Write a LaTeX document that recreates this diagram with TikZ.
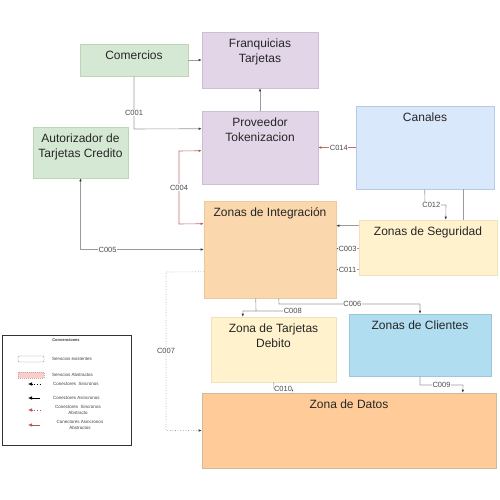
\documentclass[tikz,border=0pt]{standalone}
\usepackage{fontspec}
\setmainfont{Liberation Sans}
\usetikzlibrary{arrows.meta, calc}
\definecolor{wire}{RGB}{155,155,155}
\definecolor{tip}{RGB}{60,60,60}
\definecolor{rust}{RGB}{184,84,80}
\definecolor{sage}{HTML}{D5E8D4}
\definecolor{lilac}{HTML}{E1D5E7}
\definecolor{sky}{HTML}{DAE8FC}
\definecolor{peach}{HTML}{FAD7AC}
\definecolor{cream}{HTML}{FFF2CC}
\definecolor{aqua}{HTML}{B1DDF0}
\definecolor{apricot}{HTML}{FFCC99}
\definecolor{blush}{HTML}{F8CECC}
\definecolor{sageln}{HTML}{BCD6B6}
\definecolor{lilacln}{HTML}{CCBFD3}
\definecolor{skyln}{HTML}{B5CAE6}
\definecolor{peachln}{HTML}{EEC89E}
\definecolor{creamln}{HTML}{F1E3B8}
\definecolor{aqualn}{HTML}{9CC6DA}
\definecolor{apricotln}{HTML}{D4B89C}

\begin{document}
\begin{tikzpicture}[
  x=1pt, y=-1pt,
  zone/.style={rectangle, inner sep=0pt, line width=0.6pt},
  ttl/.style={anchor=north, yshift=-7pt, inner sep=0pt, align=center,
              font=\fontsize{12}{15}\selectfont, text=black!85},
  wire/.style={-{Latex[length=3pt, width=2.6pt, color=tip]}, draw=wire, line width=0.6pt},
  both/.style={{Latex[length=3pt, width=2.6pt, color=#1]}-{Latex[length=3pt, width=2.6pt, color=#1]}},
  rwire/.style={-{Latex[length=3pt, width=2.6pt, color=rust]}, draw=rust!85, line width=0.6pt},
  lab/.style={font=\fontsize{7.5}{8}\selectfont, text=black!70, fill=white,
              inner sep=0.5pt},
  leg/.style={font=\fontsize{4.5}{5.5}\selectfont, text=black!75, align=center,
              inner sep=0pt}]
  \useasboundingbox (0,0) rectangle (500,500);

  % boxes
  \node[zone, fill=sage, draw=sageln, minimum width=108, minimum height=32,
        label={[ttl]north:Comercios}] (com) at (134,60) {};
  \node[zone, fill=lilac, draw=lilacln, minimum width=116, minimum height=56,
        label={[ttl]north:Franquicias\\Tarjetas}] (fra) at (260,60) {};
  \node[zone, fill=lilac, draw=lilacln, minimum width=116, minimum height=73,
        label={[ttl]north:Proveedor\\Tokenizacion}] (tok) at (260,147.5) {};
  \node[zone, fill=sage, draw=sageln, minimum width=95, minimum height=51,
        label={[ttl]north:Autorizador de\\Tarjetas Credito}] (aut) at (80.5,152.5) {};
  \node[zone, fill=sky, draw=skyln, minimum width=138, minimum height=83,
        label={[ttl]north:Canales}] (can) at (425,147.5) {};
  \node[zone, fill=peach, draw=peachln, minimum width=132, minimum height=97,
        label={[ttl]north:Zonas de Integración}] (zin) at (270,249.5) {};
  \node[zone, fill=cream, draw=creamln, minimum width=138, minimum height=55,
        label={[ttl]north:Zonas de Seguridad}] (zse) at (428,247.5) {};
  \node[zone, fill=cream, draw=creamln, minimum width=125, minimum height=65,
        label={[ttl]north:Zona de Tarjetas\\Debito}] (ztd) at (273.5,349.5) {};
  \node[zone, fill=aqua, draw=aqualn, minimum width=142, minimum height=62,
        label={[ttl]north:Zonas de Clientes}] (zcl) at (420,345) {};
  \node[zone, fill=apricot, draw=apricotln, minimum width=294, minimum height=75,
        label={[ttl]north:Zona de Datos}] (zda) at (349,430.5) {};

  % connectors
  \draw[wire] (com) -- (fra);
  \draw[wire] (com.south) -- node[lab, pos=0.7] {C001} (134,129)
    -- ($(tok.north west)+(0,18)$);
  \draw[wire] (tok) -- (fra);
  \draw[rwire, both=rust] ($(zin.north west)+(0,23)$) -- (179,224)
    -- node[lab] {C004} (179,151) -- ($(tok.north west)+(0,40)$);
  \draw[wire, both=tip] (aut.south) -- (80.5,249.5)
    -- node[lab, pos=0.22] {C005} (zin.west);
  \draw[wire, dotted] ($(zin.north west)+(0,71)$) -- (166,272)
    -- node[lab] {C007} (166,430.5) -- (zda.west);
  \draw[rwire] (can) -- node[lab, pos=0.45] {C014} (tok);
  \draw[wire] ($(can.south west)+(69,0)$) -- (425,205) -- node[lab, pos=0.3] {C012} (446,205)
    -- ($(zse.north west)+(87,0)$);
  \draw[draw=wire, line width=0.6pt] ($(zse.north west)+(105,0)$) -- ($(can.south west)+(108,0)$);
  \draw[wire] ($(zse.north west)+(0,6)$) -- ($(zin.north east)+(0,25)$);
  \draw[wire] ($(zse.north west)+(0,29)$) -- node[lab] {C003} ($(zin.north east)+(0,48)$);
  \draw[wire] ($(zse.north west)+(0,50)$) -- node[lab] {C011} ($(zin.north east)+(0,69)$);
  \draw[draw=wire, line width=0.6pt] ($(zin.south west)+(52,0)$) -- (256,311)
    -- (283,311) node[lab, anchor=west] (c8) {C008};
  \draw[wire] (256,311) -- (243,311) -- ($(ztd.north west)+(32,0)$);
  \draw[wire] ($(zin.south west)+(75,0)$) -- (279,304) -- node[lab, pos=0.52] {C006} (420,304)
    -- (zcl.north);
  \draw[wire] ($(ztd.south west)+(63,0)$) -- (274,389) -- node[lab] {C010} (292,389)
    -- ($(zda.north west)+(90,0)$);
  \draw[wire] (zcl.south) -- (420,385) -- node[lab] {C009} (463,385)
    -- ($(zda.north west)+(261,0)$);

  % legend
  \node[draw=black!80, line width=1pt, minimum width=129, minimum height=110,
        inner sep=0pt] (legbox) at (66.5,390) {};
  \node[leg, font=\fontsize{4}{5}\selectfont\bfseries] (legt) at (66,340) {Convenciones};
  \draw[draw=gray!80, fill=white, rounded corners=1pt, line width=0.4pt] (18,356) rectangle (44,362);
  \node[leg, anchor=west] (l1) at (52,359) {Servicios existentes};
  \draw[draw=rust!55, fill=blush, dash pattern=on 1pt off 1pt, line width=0.3pt] (18,372) rectangle (44,378);
  \node[leg, anchor=west] (l2) at (52,375) {Servicios Abstractos};
  \draw[{Latex[length=4pt, width=3.5pt]}-, draw=black, dotted, line width=0.6pt] (28,384) -- (40,384);
  \node[leg, anchor=west] (l3) at (53,384) {Conectores~~Sincronos};
  \draw[{Latex[length=4pt, width=3.5pt]}-, draw=black, line width=0.6pt] (28,398) -- (40,398);
  \node[leg, anchor=west] (l4) at (53,398) {Conectores Asincronos};
  \draw[{Latex[length=4pt, width=3.5pt]}-, draw=rust, dotted, line width=0.6pt] (28,410) -- (40,410);
  \node[leg] (l5) at (78,410) {Conectores~~Sincronos\\Abstracto};
  \draw[{Latex[length=4pt, width=3.5pt]}-, draw=rust, line width=0.6pt] (28,425) -- (40,425);
  \node[leg] (l6) at (80,425) {Conectores Asincronos\\Abstractos};
\end{tikzpicture}
\end{document}
